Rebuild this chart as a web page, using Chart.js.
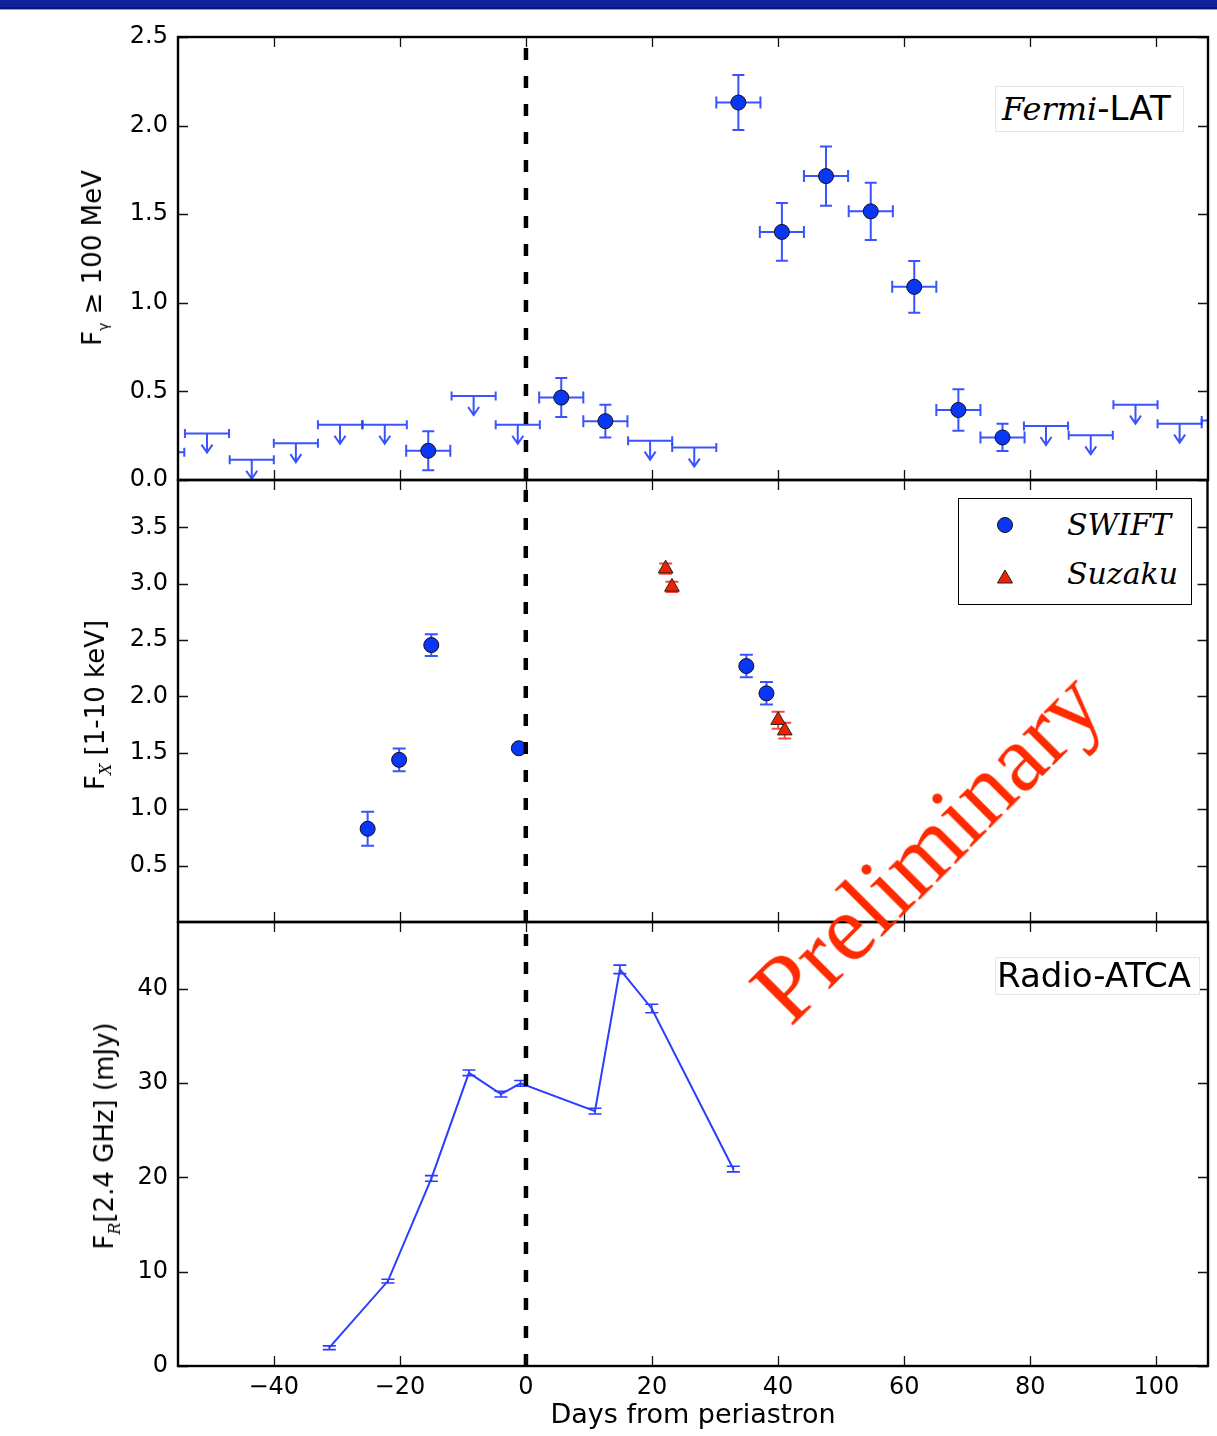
<!DOCTYPE html>
<html>
<head>
<meta charset="utf-8">
<script src="https://cdn.jsdelivr.net/npm/chart.js@4.4.1/dist/chart.umd.min.js"></script>
<style>
html,body{margin:0;padding:0;background:#fff;}
#wrap{position:relative;width:1217px;height:1436px;overflow:hidden;background:#fff;font-family:"DejaVu Sans",sans-serif;color:#000;}
#hdr1{position:absolute;left:0;top:0;width:1217px;height:7px;background:#12229c;}
#hdr2{position:absolute;left:0;top:7px;width:1217px;height:2px;background:#0a1672;}
#hdr3{position:absolute;left:0;top:9px;width:1217px;height:1px;background:#8d9de6;}
canvas.c{position:absolute;left:0;top:0;}
.ylab{position:absolute;transform:translate(-50%,-50%) rotate(-90deg);white-space:nowrap;font-size:26px;line-height:1;}
.sub{font-size:16px;position:relative;top:7px;}
.box{position:absolute;background:#fff;border:1px solid #e6e6e6;}
.t{position:absolute;white-space:nowrap;line-height:1;}
#legend{position:absolute;left:958px;top:498px;width:232px;height:105px;border:1.5px solid #000;background:#fff;}
#prelim{position:absolute;left:927px;top:847px;transform:translate(-50%,-50%) rotate(-45deg);white-space:nowrap;font-family:"Liberation Serif",serif;font-size:95px;line-height:1;color:#ff2a00;}
</style>
</head>
<body>
<div id="wrap">
  <div id="hdr1"></div><div id="hdr2"></div><div id="hdr3"></div>
  <canvas class="c" id="c1" width="1217" height="1436"></canvas>
  <canvas class="c" id="c2" width="1217" height="1436"></canvas>
  <canvas class="c" id="c3" width="1217" height="1436"></canvas>

  <div class="ylab" style="left:92px;top:258px;">F<span class="sub" style="font-size:14px;">γ</span> ≥ 100 MeV</div>
  <div class="ylab" style="left:95px;top:705px;">F<span class="sub"><i style="font-family:'DejaVu Serif',serif;">X</i></span> [1-10 keV]</div>
  <div class="ylab" style="left:104px;top:1136px;">F<span class="sub"><i style="font-family:'DejaVu Serif',serif;">R</i></span>[2.4 GHz] (mJy)</div>

  <div class="box" style="left:995px;top:86px;width:187px;height:44px;"></div>
  <div class="t" style="left:1002px;top:91px;font-size:34px;"><i style="font-family:'DejaVu Serif',serif;font-size:32px;">Fermi</i>-LAT</div>

  <div class="box" style="left:995px;top:957px;width:203px;height:36px;"></div>
  <div class="t" style="left:997px;top:958px;font-size:34px;">Radio-ATCA</div>

  <div id="legend"></div>
  <div style="position:absolute;left:997px;top:517px;width:14px;height:14px;border-radius:50%;background:#0a36f5;border:1px solid #111;"></div>
  <svg style="position:absolute;left:994px;top:567px;" width="22" height="20"><polygon points="11,3 18.5,16 3.5,16" fill="#ee2200" stroke="#222" stroke-width="1"/></svg>
  <div class="t" style="left:1067px;top:510px;font-family:'DejaVu Serif',serif;font-style:italic;font-size:30px;">SWIFT</div>
  <div class="t" style="left:1067px;top:559px;font-family:'DejaVu Serif',serif;font-style:italic;font-size:30px;">Suzaku</div>

  <div id="prelim">Preliminary</div>
</div>

<script>
// ---------------- data ----------------
const xTicks = [-40, -20, 0, 20, 40, 60, 80, 100];
const X_MIN = -55.2, X_MAX = 108.2;

// Fermi-LAT detections (days, flux, errors)
const fermiX    = [-15.5, 5.6, 12.6, 33.7, 40.6, 47.6, 54.7, 61.6, 68.6, 75.6];
const fermiY    = [0.165, 0.465, 0.332, 2.13, 1.40, 1.715, 1.516, 1.09, 0.395, 0.24];
const fermiYErr = [0.11, 0.11, 0.092, 0.155, 0.163, 0.167, 0.162, 0.146, 0.117, 0.077];
const fermiXErr = [3.5, 3.5, 3.5, 3.5, 3.5, 3.5, 3.5, 3.5, 3.5, 3.5];
// Fermi-LAT upper limits
const ulX    = [-57.7, -50.6, -43.5, -36.5, -29.5, -22.4, -8.3, -1.3, 19.7, 26.7, 82.5, 89.6, 96.7, 103.7, 110.7];
const ulY    = [0.157, 0.262, 0.114, 0.208, 0.312, 0.312, 0.474, 0.312, 0.222, 0.183, 0.305, 0.252, 0.425, 0.318, 0.336];
const ulXErr = [3.5, 3.5, 3.5, 3.5, 3.5, 3.5, 3.5, 3.5, 3.5, 3.5, 3.5, 3.5, 3.5, 3.5, 3.5];
const fermiYTicks = [0, 0.5, 1.0, 1.5, 2.0, 2.5];

// X-ray
const swiftX    = [-25.1, -20.1, -15.0, -1.1, 35.0, 38.2];
const swiftY    = [0.827, 1.438, 2.456, 1.541, 2.27, 2.028];
const swiftYErr = [0.15, 0.10, 0.097, 0.02, 0.10, 0.10];
const suzakuX    = [22.2, 23.2, 40.05, 41.1];
const suzakuY    = [3.134, 2.972, 1.79, 1.697];
const suzakuYErr = [0.045, 0.045, 0.075, 0.07];
const xrayYTicks = [0.5, 1.0, 1.5, 2.0, 2.5, 3.0, 3.5];

// Radio
const radioX    = [-31.2, -21.9, -15.0, -9.05, -3.97, -0.85, 10.95, 14.9, 19.95, 32.9];
const radioY    = [1.94, 9.01, 19.9, 31.1, 28.84, 29.98, 27.04, 42.07, 37.93, 20.89];
const radioYErr = [0.2, 0.2, 0.3, 0.3, 0.3, 0.3, 0.3, 0.45, 0.45, 0.3];
const radioYTicks = [0, 10, 20, 30, 40];

// ---------------- helpers ----------------
const pts = (xs, ys) => xs.map((v, i) => ({x: v, y: ys[i]}));
const TICK_FONT = {family: "'DejaVu Sans', sans-serif", size: 24};
const BLUE = '#0a36f5';
const ERR_BLUE = 'rgba(35,65,255,0.9)';
const fmtX = v => v < 0 ? '\u2212' + Math.abs(v) : String(v);

const errPlugin = {
  id: 'errbars',
  beforeDatasetsDraw(chart) {
    const {ctx, chartArea: a, scales: {x, y}} = chart;
    ctx.save();
    ctx.beginPath(); ctx.rect(a.left, a.top, a.width, a.height); ctx.clip();
    chart.data.datasets.forEach(ds => {
      const e = ds.err; if (!e) return;
      ctx.strokeStyle = e.color; ctx.lineWidth = e.width || 2;
      ds.data.forEach((p, i) => {
        const px = x.getPixelForValue(p.x), py = y.getPixelForValue(p.y);
        const c = e.cap;
        ctx.beginPath();
        if (e.y) {
          const t = y.getPixelForValue(p.y + e.y[i]), b = y.getPixelForValue(p.y - e.y[i]);
          ctx.moveTo(px, t); ctx.lineTo(px, b);
          ctx.moveTo(px - c, t); ctx.lineTo(px + c, t);
          ctx.moveTo(px - c, b); ctx.lineTo(px + c, b);
        }
        if (e.x) {
          const l = x.getPixelForValue(p.x - e.x[i]), r = x.getPixelForValue(p.x + e.x[i]);
          ctx.moveTo(l, py); ctx.lineTo(r, py);
          ctx.moveTo(l, py - c); ctx.lineTo(l, py + c);
          ctx.moveTo(r, py - c); ctx.lineTo(r, py + c);
        }
        if (e.ul) {
          ctx.moveTo(px, py); ctx.lineTo(px, py + 19);
          ctx.moveTo(px - 5.5, py + 11); ctx.lineTo(px, py + 19); ctx.lineTo(px + 5.5, py + 11);
        }
        ctx.stroke();
      });
    });
    ctx.restore();
  }
};

const framePlugin = {
  id: 'frame',
  afterDraw(chart) {
    const {ctx, chartArea: a, scales: {x, y}} = chart;
    const yt = chart.options.plugins.frame.yTicks;
    ctx.save();
    ctx.strokeStyle = '#111'; ctx.lineWidth = 1.3;
    ctx.beginPath();
    xTicks.forEach(v => {
      const px = Math.round(x.getPixelForValue(v)) + 0.5;
      ctx.moveTo(px, a.bottom); ctx.lineTo(px, a.bottom - 10);
      ctx.moveTo(px, a.top); ctx.lineTo(px, a.top + 10);
    });
    yt.forEach(v => {
      const py = Math.round(y.getPixelForValue(v)) + 0.5;
      ctx.moveTo(a.left, py); ctx.lineTo(a.left + 10, py);
      ctx.moveTo(a.right, py); ctx.lineTo(a.right - 10, py);
    });
    ctx.stroke();
    ctx.lineWidth = 2.4; ctx.strokeStyle = '#000';
    ctx.strokeRect(a.left, a.top, a.right - a.left, a.bottom - a.top);
    ctx.restore();
  }
};

function vline(yMin, yMax) {
  return {data: [{x: 0, y: yMin}, {x: 0, y: yMax}], showLine: true, borderColor: '#000', borderWidth: 4.5,
          borderDash: [12, 16], pointRadius: 0, order: 0};
}

function makeOptions(yMin, yMax, yTicks, yFmt, padTop, padBottom, showX) {
  return {
    responsive: false, animation: false, devicePixelRatio: 1,
    layout: {padding: {top: padTop, bottom: padBottom, left: 0, right: 9}},
    plugins: {legend: {display: false}, tooltip: {enabled: false}, frame: {yTicks: yTicks}},
    scales: {
      x: {
        type: 'linear', min: X_MIN, max: X_MAX, display: showX,
        grid: {display: false, drawTicks: false}, border: {display: false},
        afterBuildTicks: s => { s.ticks = xTicks.map(v => ({value: v})); },
        afterFit: s => { s.height = showX ? 70 : 0; },
        ticks: {font: TICK_FONT, color: '#000', padding: 7, maxRotation: 0, autoSkip: false, callback: fmtX},
        title: {display: showX, text: 'Days from periastron', font: {family: "'DejaVu Sans', sans-serif", size: 27}, color: '#000', padding: {top: 0, bottom: 4}}
      },
      y: {
        type: 'linear', min: yMin, max: yMax,
        grid: {display: false, drawTicks: false}, border: {display: false},
        afterBuildTicks: s => { s.ticks = yTicks.map(v => ({value: v})); },
        afterFit: s => { s.width = 178; },
        ticks: {font: TICK_FONT, color: '#000', padding: 10, autoSkip: false, callback: yFmt}
      }
    }
  };
}

// ---------------- top panel: Fermi-LAT ----------------
new Chart(document.getElementById('c1'), {
  type: 'scatter',
  data: {datasets: [
    vline(0, 2.5),
    {data: pts(fermiX, fermiY), pointRadius: 7.5, pointBackgroundColor: BLUE, pointBorderColor: '#111', pointBorderWidth: 1, order: 1,
     err: {y: fermiYErr, x: fermiXErr, cap: 6, color: ERR_BLUE, width: 2}},
    {data: pts(ulX, ulY), pointRadius: 0, order: 2,
     err: {x: ulXErr, cap: 4.5, ul: true, color: ERR_BLUE, width: 2}}
  ]},
  options: makeOptions(0, 2.5, fermiYTicks, v => v.toFixed(1), 37, 956, false),
  plugins: [errPlugin, framePlugin]
});

// ---------------- middle panel: X-ray ----------------
new Chart(document.getElementById('c2'), {
  type: 'scatter',
  data: {datasets: [
    vline(0, 3.92),
    {data: pts(swiftX, swiftY), pointRadius: 7.5, pointBackgroundColor: BLUE, pointBorderColor: '#111', pointBorderWidth: 1, order: 1,
     err: {y: swiftYErr, cap: 6.5, color: ERR_BLUE, width: 2}},
    {data: pts(suzakuX, suzakuY), pointStyle: 'triangle', pointRadius: 8.5, pointBackgroundColor: '#ee2200', pointBorderColor: '#222', pointBorderWidth: 1, order: 1,
     err: {y: suzakuYErr, cap: 6.5, color: 'rgba(255,50,40,0.9)', width: 2}}
  ]},
  options: makeOptions(0, 3.92, xrayYTicks, v => v.toFixed(1), 480, 514, false),
  plugins: [errPlugin, framePlugin]
});

// ---------------- bottom panel: Radio ----------------
new Chart(document.getElementById('c3'), {
  type: 'scatter',
  data: {datasets: [
    vline(0, 47.1),
    {data: pts(radioX, radioY), showLine: true, borderColor: '#2b3dff', borderWidth: 2, pointRadius: 0, tension: 0, order: 1,
     err: {y: radioYErr, cap: 6.5, color: '#2b3dff', width: 1.6}}
  ]},
  options: makeOptions(0, 47.1, radioYTicks, v => String(v), 922, 0, true),
  plugins: [errPlugin, framePlugin]
});
</script>
</body>
</html>
